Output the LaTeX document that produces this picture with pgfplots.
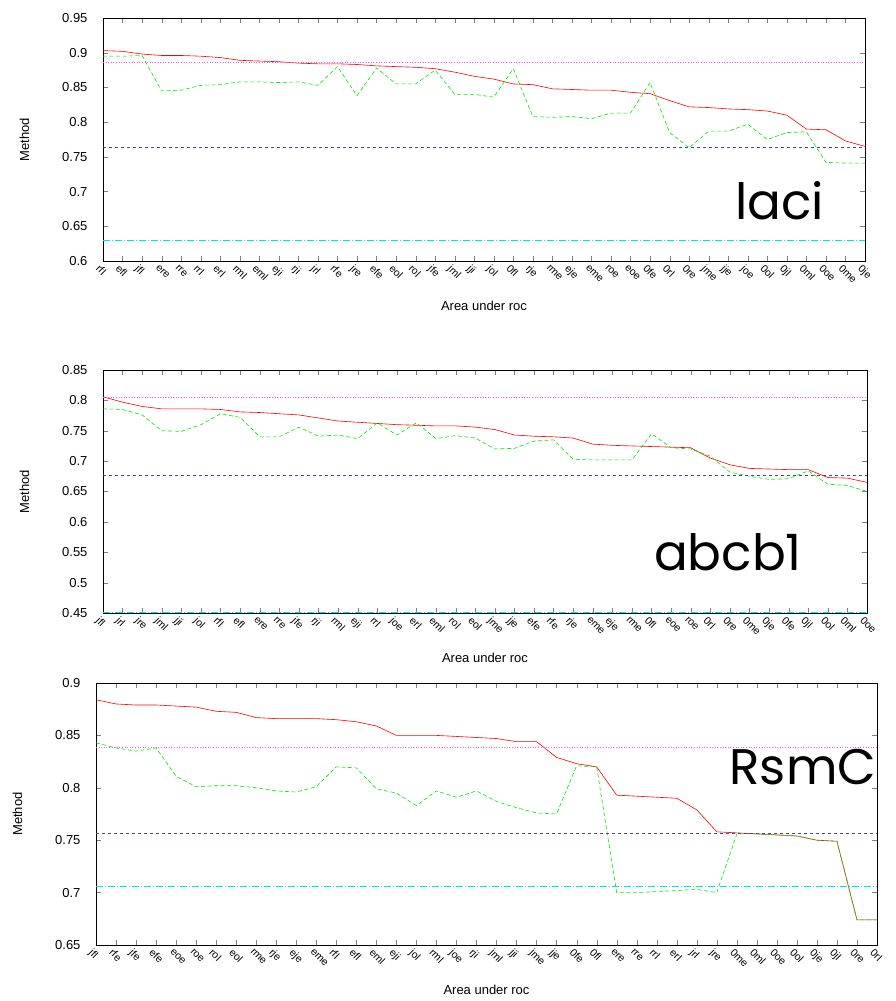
\documentclass[border=0pt]{standalone}
\usepackage{fontspec}
\setmainfont{Liberation Sans}
\newfontfamily\bigfont{Poppins}
\usepackage{pgfplots}
\pgfplotsset{compat=1.18}
\definecolor{gred}{RGB}{255,0,0}
\definecolor{ggreen}{RGB}{0,230,0}
\definecolor{gmag}{RGB}{255,80,255}
\definecolor{gblue}{RGB}{70,70,150}
\definecolor{gcyan}{RGB}{0,225,235}

\pgfplotsset{
  panel/.style={
    scale only axis,
    anchor=south west,
    xmin=1, xmax=40,
    xtick={1,...,40},
    tick align=inside,
    major tick length=5pt,
    font=\fontsize{13}{15}\selectfont,
    x tick label style={rotate=-45, anchor=north west, font=\fontsize{10.5}{12}\selectfont, inner sep=0.5pt, yshift=-3pt},
    y tick label style={xshift=-12pt},
    /pgf/number format/assume math mode=true,
    xlabel={Area under roc},
    xlabel style={yshift=-13pt},
    ylabel={Method},
    ylabel style={yshift=26pt},
    every axis plot/.append style={line width=0.6pt},
  },
  redl/.style={gred, solid},
  greenl/.style={ggreen, dash pattern=on 4pt off 2.5pt},
  magl/.style={gmag, dotted},
  bluel/.style={gblue, dash pattern=on 3pt off 3pt},
  cyanl/.style={gcyan, dash pattern=on 7pt off 2pt on 1pt off 2pt},
}

\begin{document}
\begin{tikzpicture}
\useasboundingbox (0,0) rectangle (895pt,1001pt);

% ---- laci ----
\begin{axis}[panel, at={(103pt,740pt)}, width=762pt, height=243pt,
  ymin=0.6, ymax=0.95, ytick={0.6,0.65,...,0.951},
  xticklabels={rfl,efl,jfl,ere,rre,rrl,erl,rml,eml,eji,rji,jrl,rfe,jre,efe,eol,rol,jfe,jml,jji,jol,0fl,rje,rme,eje,eme,roe,eoe,0fe,0rl,0re,jme,jje,joe,0ol,0jl,0ml,0oe,0me,0je}]
\addplot[redl] coordinates {
(1,0.903) (2,0.902) (3,0.898) (4,0.896) (5,0.896) (6,0.895) (7,0.893) (8,0.889) (9,0.888) (10,0.887)
(11,0.885) (12,0.884) (13,0.884) (14,0.883) (15,0.881) (16,0.880) (17,0.879) (18,0.877) (19,0.872) (20,0.866)
(21,0.862) (22,0.855) (23,0.854) (24,0.848) (25,0.847) (26,0.846) (27,0.846) (28,0.843) (29,0.841) (30,0.831)
(31,0.822) (32,0.821) (33,0.819) (34,0.818) (35,0.816) (36,0.810) (37,0.790) (38,0.789) (39,0.773) (40,0.765)};
\addplot[greenl] coordinates {
(1,0.895) (2,0.895) (3,0.896) (4,0.845) (5,0.846) (6,0.853) (7,0.854) (8,0.858) (9,0.858) (10,0.857)
(11,0.858) (12,0.853) (13,0.880) (14,0.838) (15,0.878) (16,0.855) (17,0.855) (18,0.875) (19,0.840) (20,0.840)
(21,0.836) (22,0.877) (23,0.808) (24,0.807) (25,0.808) (26,0.805) (27,0.813) (28,0.813) (29,0.857) (30,0.785)
(31,0.763) (32,0.787) (33,0.787) (34,0.797) (35,0.775) (36,0.785) (37,0.786) (38,0.742) (39,0.741) (40,0.741)};
\addplot[magl] coordinates {(1,0.886) (40,0.886)};
\addplot[bluel] coordinates {(1,0.764) (40,0.764)};
\addplot[cyanl] coordinates {(1,0.630) (40,0.630)};
\node[font=\bigfont\fontsize{50}{50}\selectfont] at (rel axis cs:0.888,0.25) {laci};
\end{axis}

% ---- abcb1 ----
\begin{axis}[panel, at={(103pt,388pt)}, width=764pt, height=243pt,
  ymin=0.45, ymax=0.85, ytick={0.45,0.5,...,0.851},
  xticklabels={jfl,jrl,jre,jml,jji,jol,rfl,efl,ere,rre,jfe,rji,rml,eji,rrl,joe,erl,eml,rol,eol,jme,jje,efe,rfe,rje,eme,eje,rme,0fl,eoe,roe,0rl,0re,0me,0je,0fe,0jl,0ol,0ml,0oe}]
\addplot[redl] coordinates {
(1,0.806) (2,0.797) (3,0.790) (4,0.786) (5,0.786) (6,0.786) (7,0.785) (8,0.781) (9,0.780) (10,0.778)
(11,0.776) (12,0.771) (13,0.766) (14,0.764) (15,0.762) (16,0.760) (17,0.759) (18,0.758) (19,0.758) (20,0.756)
(21,0.752) (22,0.743) (23,0.741) (24,0.740) (25,0.738) (26,0.728) (27,0.726) (28,0.725) (29,0.724) (30,0.723)
(31,0.722) (32,0.705) (33,0.694) (34,0.688) (35,0.687) (36,0.686) (37,0.686) (38,0.673) (39,0.672) (40,0.665)};
\addplot[greenl] coordinates {
(1,0.786) (2,0.785) (3,0.776) (4,0.750) (5,0.749) (6,0.760) (7,0.778) (8,0.772) (9,0.740) (10,0.740)
(11,0.756) (12,0.741) (13,0.743) (14,0.737) (15,0.763) (16,0.743) (17,0.763) (18,0.737) (19,0.742) (20,0.738)
(21,0.720) (22,0.721) (23,0.733) (24,0.735) (25,0.703) (26,0.702) (27,0.702) (28,0.702) (29,0.745) (30,0.722)
(31,0.720) (32,0.708) (33,0.682) (34,0.675) (35,0.670) (36,0.671) (37,0.684) (38,0.662) (39,0.660) (40,0.650)};
\addplot[magl] coordinates {(1,0.805) (40,0.805)};
\addplot[bluel] coordinates {(1,0.677) (40,0.677)};
\addplot[cyanl] coordinates {(1,0.451) (40,0.451)};
\node[font=\bigfont\fontsize{50}{50}\selectfont] at (rel axis cs:0.818,0.25) {abcb1};
\end{axis}

% ---- RsmC ----
\begin{axis}[panel, at={(96pt,56pt)}, width=781pt, height=262pt,
  ymin=0.65, ymax=0.9, ytick={0.65,0.7,...,0.901},
  xticklabels={jfl,rfe,jfe,efe,eoe,roe,rol,eol,rme,rje,eje,eme,rfl,efl,eml,eji,jol,rml,joe,rji,jml,jji,jme,jje,0fe,0fl,ere,rre,rrl,erl,jrl,jre,0me,0ml,0oe,0ol,0je,0jl,0re,0rl}]
\addplot[redl] coordinates {
(1,0.884) (2,0.880) (3,0.879) (4,0.879) (5,0.878) (6,0.877) (7,0.873) (8,0.872) (9,0.867) (10,0.866)
(11,0.866) (12,0.866) (13,0.865) (14,0.863) (15,0.859) (16,0.850) (17,0.850) (18,0.850) (19,0.849) (20,0.848)
(21,0.847) (22,0.844) (23,0.844) (24,0.829) (25,0.823) (26,0.820) (27,0.793) (28,0.792) (29,0.791) (30,0.790)
(31,0.779) (32,0.758) (33,0.757) (34,0.756) (35,0.755) (36,0.754) (37,0.750) (38,0.749) (39,0.674) (40,0.674)};
\addplot[greenl] coordinates {
(1,0.843) (2,0.838) (3,0.835) (4,0.838) (5,0.811) (6,0.801) (7,0.802) (8,0.802) (9,0.800) (10,0.797)
(11,0.796) (12,0.801) (13,0.820) (14,0.819) (15,0.799) (16,0.795) (17,0.783) (18,0.797) (19,0.791) (20,0.797)
(21,0.787) (22,0.781) (23,0.776) (24,0.775) (25,0.821) (26,0.820) (27,0.700) (28,0.700) (29,0.701) (30,0.702)
(31,0.703) (32,0.700) (33,0.756) (34,0.756) (35,0.755) (36,0.754) (37,0.750) (38,0.749) (39,0.674) (40,0.674)};
\addplot[magl] coordinates {(1,0.839) (40,0.839)};
\addplot[bluel] coordinates {(1,0.757) (40,0.757)};
\addplot[cyanl] coordinates {(1,0.706) (40,0.706)};
\node[font=\bigfont\fontsize{50}{50}\selectfont] at (rel axis cs:0.905,0.68) {RsmC};
\end{axis}
\end{tikzpicture}
\end{document}
